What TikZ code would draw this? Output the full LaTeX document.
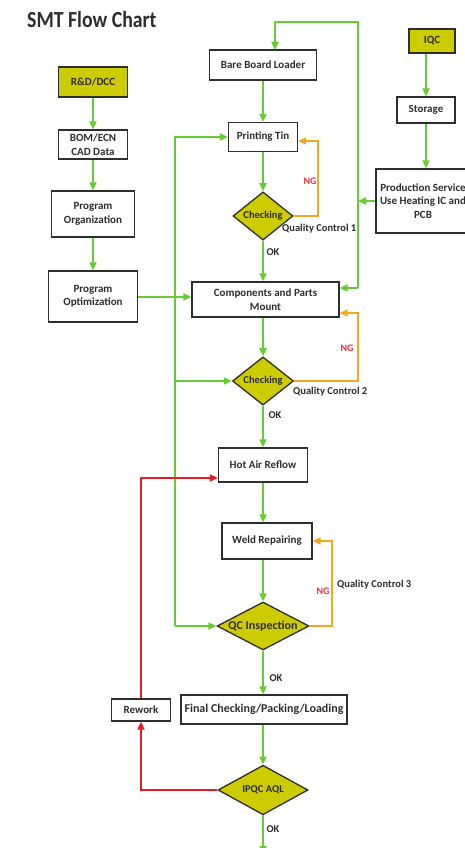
\documentclass[tikz,border=0pt]{standalone}
\usepackage{fontspec}
\setmainfont{Carlito}
\newfontfamily\titlefont[FakeStretch=0.86]{Carlito}
\usetikzlibrary{arrows.meta,shapes.geometric}
\definecolor{gcol}{HTML}{66CC33}
\definecolor{ocol}{HTML}{F5A623}
\definecolor{rcol}{HTML}{E41E26}
\definecolor{ycol}{HTML}{CCCC00}
\definecolor{ink}{HTML}{2E2E2E}
\definecolor{ngred}{HTML}{E8313A}
\begin{document}
\begin{tikzpicture}[x=1pt,y=-1pt,
  box/.style={draw=ink,line width=1.3pt,fill=white,inner sep=0pt,align=center,text=ink,font=\bfseries\fontsize{11}{13.5}\selectfont},
  ybox/.style={box,fill=ycol},
  dia/.style={diamond,draw=ink,line width=1.3pt,fill=ycol,inner sep=0pt,text=ink,font=\bfseries\fontsize{10.5}{12}\selectfont},
  tip/.style={-{Triangle[length=8pt,width=7pt]}},
  gcon/.style={draw=gcol,line width=1.8pt},
  ocon/.style={draw=ocol,line width=1.4pt},
  rcon/.style={draw=rcol,line width=1.8pt},
  lbl/.style={text=ink,inner sep=0pt,font=\bfseries\fontsize{10.5}{12}\selectfont},
  nglbl/.style={text=ngred,inner sep=0pt,font=\bfseries\fontsize{10}{12}\selectfont}
]
\useasboundingbox (0,0) rectangle (465,848);
\clip (0,0) rectangle (465,848);
\fill[white] (0,0) rectangle (465,848);

\node[anchor=west,text=ink,inner sep=0pt,font=\titlefont\bfseries\fontsize{23}{26}\selectfont] (title) at (27,20) {SMT Flow Chart};

% left column
\node[ybox,minimum width=69,minimum height=30] (rd) at (93,82) {R\&D/DCC};
\node[box,minimum width=69,minimum height=29] (bom) at (93,144.5) {BOM/ECN\\CAD Data};
\node[box,minimum width=83,minimum height=46] (porg) at (93,214) {Program\\Organization};
\node[box,minimum width=89,minimum height=51] (popt) at (93,296.5) {Program\\Optimization};

% right column
\node[ybox,minimum width=46,minimum height=24] (iqc) at (432,41) {IQC};
\node[box,minimum width=58,minimum height=26] (stor) at (426,110) {Storage};
\node[box,minimum width=94,minimum height=64] (prod) at (423,201) {Production Service\\Use Heating IC and\\PCB};

% main column
\node[box,minimum width=107,minimum height=30] (bbl) at (263,65) {Bare Board Loader};
\node[box,minimum width=69,minimum height=29] (pt) at (263,137) {Printing Tin};
\node[dia,minimum width=60,minimum height=43] (chk1) at (263,216) {Checking};
\node[box,minimum width=147,minimum height=35] (comp) at (265.5,299.5) {Components and Parts\\Mount};
\node[dia,minimum width=61,minimum height=44] (chk2) at (263,381) {Checking};
\node[box,minimum width=89,minimum height=34] (har) at (263,465) {Hot Air Reflow};
\node[box,minimum width=90,minimum height=36] (weld) at (267,541) {Weld Repairing};
\node[dia,minimum width=92,minimum height=48] (qci) at (263,626) {};
\node[text=ink,inner sep=0pt,font=\bfseries\fontsize{12}{14}\selectfont] (qcit) at (qci.center) {QC Inspection};
\node[box,minimum width=166,minimum height=29,font=\bfseries\fontsize{12}{14}\selectfont] (fin) at (264,709.5) {Final Checking/Packing/Loading};
\node[box,minimum width=59,minimum height=22] (rew) at (141,710) {Rework};
\node[dia,minimum width=90,minimum height=47] (ipqc) at (263,790) {IPQC AQL};

% labels
\node[lbl,anchor=west] (qc1) at (282,229) {Quality Control 1};
\node[lbl,anchor=west] (qc2) at (293,392) {Quality Control 2};
\node[lbl,anchor=west] (qc3) at (337,585) {Quality Control 3};
\node[nglbl] (ng1) at (310,181) {NG};
\node[nglbl] (ng2) at (347,348) {NG};
\node[nglbl] (ng3) at (323,591) {NG};
\node[lbl] (ok1) at (273,252) {OK};
\node[lbl] (ok2) at (275,415) {OK};
\node[lbl] (ok3) at (276,678) {OK};
\node[lbl] (ok4) at (273,829) {OK};

% helper coordinates
\coordinate (lt) at (175,137);
\coordinate (lb) at (175,626);
\coordinate (rt) at (358,22);
\coordinate (rb) at (358,288);
\coordinate (bin) at (275,50);
\coordinate (o1) at (318,141);
\coordinate (o2) at (358,313);
\coordinate (o3) at (332,541);
\coordinate (rin) at (141,478);
\coordinate (endp) at (263,854);

% left column arrows
\draw[gcon,tip] (rd.south) -- (bom.north);
\draw[gcon,tip] (bom.south) -- (porg.north);
\draw[gcon,tip] (porg.south) -- (popt.north);
\draw[gcon,tip] (popt.east |- 0,297) -- (comp.west |- 0,297);

% left feeder line
\draw[gcon,tip] (lb) -- (lt) -- (pt.west);
\draw[gcon,tip] (lb) -- (qci.west);
\draw[gcon,tip] (lb |- chk2.west) -- (chk2.west);

% right loop
\draw[gcon,tip] (rb) -- (rt) -| (bin);
\draw[gcon,tip] (rb) -- (comp.east |- rb);
\draw[gcon,tip] (prod.west) -- (rt |- prod.west);
\draw[gcon,tip] (stor.north |- iqc.south) -- (stor.north);
\draw[gcon,tip] (stor.south) -- (stor.south |- prod.north);

% main flow
\draw[gcon,tip] (bbl.south) -- (pt.north);
\draw[gcon,tip] (pt.south) -- (chk1.north);
\draw[gcon,tip] (chk1.south) -- (chk1.south |- comp.north);
\draw[gcon,tip] (comp.south -| chk2.north) -- (chk2.north);
\draw[gcon,tip] (chk2.south) -- (har.north);
\draw[gcon,tip] (har.south) -- (har.south |- weld.north);
\draw[gcon,tip] (weld.south -| qci.north) -- (qci.north);
\draw[gcon,tip] (qci.south) -- (qci.south |- fin.north);
\draw[gcon,tip] (fin.south -| ipqc.north) -- (ipqc.north);
\draw[gcon,tip] (ipqc.south) -- (endp);

% NG loops
\draw[ocon,tip] (chk1.east) -| (o1) -- (pt.east |- o1);
\draw[ocon,tip] (chk2.east) -| (o2) -- (comp.east |- o2);
\draw[ocon,tip] (qci.east) -| (o3) -- (weld.east);

% rework
\draw[rcon,tip] (ipqc.west) -| (rew.south);
\draw[rcon,tip] (rew.north) -- (rin) -- (har.west |- rin);
\end{tikzpicture}
\end{document}
